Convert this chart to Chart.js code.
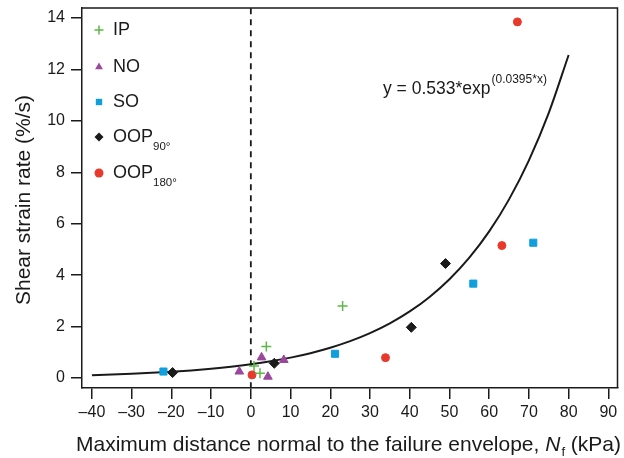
<!DOCTYPE html>
<html><head><meta charset="utf-8">
<script src="https://cdn.jsdelivr.net/npm/chart.js@4/dist/chart.umd.min.js"></script>
<style>html,body{margin:0;padding:0;background:#fff}#wrap{width:624px;height:458px;position:relative}</style>
</head><body><div id="wrap"><canvas id="c" width="624" height="458"></canvas></div>
<script>
// ---- data ----
const xTicks = [-40,-30,-20,-10,0,10,20,30,40,50,60,70,80,90];
const yTicks = [0,2,4,6,8,10,12,14];
const ipX = [23.1, 3.9, 0.8, 2.3];
const ipY = [2.8, 1.22, 0.47, 0.18];
const noX = [2.7, -2.9, 4.3, 8.3];
const noY = [0.8, 0.25, 0.05, 0.7];
const soX = [-22, 21.2, 56, 71.1];
const soY = [0.25, 0.94, 3.67, 5.26];
const oop90X = [-19.7, 5.9, 40.4, 49];
const oop90Y = [0.21, 0.57, 1.97, 4.45];
const oop180X = [0.3, 33.9, 63.2, 67.1];
const oop180Y = [0.12, 0.79, 5.15, 13.85];
const fitA = 0.533, fitB = 0.0395;
const fitXs = [-40,-35,-30,-25,-20,-15,-10,-5,0,5,10,15,20,25,30,35,40,45,50,55,60,65,70,75,80];

const FONT = '"Liberation Sans", Arial, Helvetica, sans-serif';
const pts = (xs, ys) => xs.map((x, i) => ({x, y: ys[i]}));
const fitPts = fitXs.map(x => ({x, y: fitA * Math.exp(fitB * x)}));

const series = [
  {label:'IP', xs:ipX, ys:ipY, style:'cross', color:'#5cb848', r:5, sub:''},
  {label:'NO', xs:noX, ys:noY, style:'triangle', color:'#9a489c', r:5, sub:''},
  {label:'SO', xs:soX, ys:soY, style:'rect', color:'#109fdc', r:5, sub:''},
  {label:'OOP', xs:oop90X, ys:oop90Y, style:'rectRot', color:'#1a1a1a', r:5, sub:'90°'},
  {label:'OOP', xs:oop180X, ys:oop180Y, style:'circle', color:'#e8392c', r:4, sub:'180°'}
];

const datasets = series.map(s => ({
  type:'scatter', label:s.label + s.sub, data: pts(s.xs, s.ys),
  pointStyle:s.style, pointRadius:s.r, pointHoverRadius:s.r,
  backgroundColor:s.color, borderColor:s.color,
  borderWidth: s.style === 'cross' ? 1.5 : 1
}));
datasets.push({type:'line', label:'fit', data: fitPts, borderColor:'#1a1a1a', borderWidth:2,
  pointRadius:0, tension:0.4, cubicInterpolationMode:'monotone', fill:false});
datasets.push({type:'line', label:'zero', data:[{x:0,y:-0.4},{x:0,y:14.43}], borderColor:'#1a1a1a',
  borderWidth:1.8, borderDash:[6,5], pointRadius:0, fill:false});

function drawMarker(ctx, style, x, y, r, color) {
  ctx.save();
  ctx.fillStyle = color; ctx.strokeStyle = color; ctx.lineWidth = 1.5;
  ctx.beginPath();
  if (style === 'cross') {
    ctx.moveTo(x - r, y); ctx.lineTo(x + r, y); ctx.moveTo(x, y - r); ctx.lineTo(x, y + r); ctx.stroke();
  } else if (style === 'triangle') {
    ctx.moveTo(x, y - r); ctx.lineTo(x + r * 0.87, y + r * 0.5); ctx.lineTo(x - r * 0.87, y + r * 0.5); ctx.closePath(); ctx.fill();
  } else if (style === 'rect') {
    const h = r * 0.707; ctx.rect(x - h, y - h, 2 * h, 2 * h); ctx.fill();
  } else if (style === 'rectRot') {
    ctx.moveTo(x, y - r); ctx.lineTo(x + r, y); ctx.lineTo(x, y + r); ctx.lineTo(x - r, y); ctx.closePath(); ctx.fill();
  } else {
    ctx.arc(x, y, r, 0, Math.PI * 2); ctx.fill();
  }
  ctx.restore();
}

const decor = {
  id:'decor',
  afterDraw(chart) {
    const ctx = chart.ctx, a = chart.chartArea;
    ctx.save();
    // box top/right
    ctx.strokeStyle = '#1a1a1a'; ctx.lineWidth = 1.5;
    ctx.beginPath(); ctx.moveTo(a.left, a.top); ctx.lineTo(a.right, a.top); ctx.lineTo(a.right, a.bottom); ctx.stroke();
    // legend
    const ys = [30, 67, 102, 137, 173];
    ctx.fillStyle = '#1a1a1a'; ctx.textBaseline = 'middle'; ctx.textAlign = 'left';
    series.forEach((s, i) => {
      drawMarker(ctx, s.style, 99, ys[i], 4.5, s.color);
      ctx.fillStyle = '#1a1a1a';
      ctx.font = '18px ' + FONT;
      ctx.fillText(s.label, 113, ys[i]);
      if (s.sub) {
        const w = ctx.measureText(s.label).width;
        ctx.font = '11.5px ' + FONT;
        ctx.fillText(s.sub, 113 + w, ys[i] + 10);
      }
    });
    // equation
    ctx.font = '17.5px ' + FONT;
    const eq = 'y = 0.533*exp';
    ctx.fillText(eq, 383, 89);
    const ew = ctx.measureText(eq).width;
    ctx.font = '12px ' + FONT;
    ctx.fillText('(0.0395*x)', 383 + ew + 1, 80);
    // x title
    const TF = 21;
    ctx.font = TF + 'px ' + FONT;
    const p1 = 'Maximum distance normal to the failure envelope, ';
    const w1 = ctx.measureText(p1).width;
    ctx.font = 'italic ' + TF + 'px ' + FONT;
    const wN = ctx.measureText('N').width;
    ctx.font = '13px ' + FONT;
    const wf = ctx.measureText('f').width;
    ctx.font = TF + 'px ' + FONT;
    const p3 = ' (kPa)';
    const w3 = ctx.measureText(p3).width;
    let x0 = 348 - (w1 + wN + wf + w3) / 2;
    const ty = 445;
    ctx.fillText(p1, x0, ty); x0 += w1;
    ctx.font = 'italic ' + TF + 'px ' + FONT; ctx.fillText('N', x0, ty); x0 += wN;
    ctx.font = '13px ' + FONT; ctx.fillText('f', x0 + 1, ty + 7); x0 += wf + 1;
    ctx.font = TF + 'px ' + FONT; ctx.fillText(p3, x0, ty);
    // y title
    ctx.translate(24, 200); ctx.rotate(-Math.PI / 2);
    ctx.textAlign = 'center';
    ctx.fillText('Shear strain rate (%/s)', 0, 0);
    ctx.restore();
  }
};

new Chart(document.getElementById('c'), {
  type:'scatter',
  data:{datasets},
  options:{
    responsive:false, animation:false,
    layout:{padding:{top:8, right:5, left:0, bottom:0}},
    plugins:{legend:{display:false}, tooltip:{enabled:false}},
    scales:{
      x:{type:'linear', min:-42.5, max:92.3,
        afterBuildTicks: s => { s.ticks = xTicks.map(v => ({value:v})); },
        afterFit: s => { s.height = 70; s.paddingLeft = 0; s.paddingRight = 0; },
        ticks:{font:{size:16, family:FONT, lineHeight:1}, color:'#1a1a1a', padding:6, maxRotation:0,
          callback: v => String(v).replace('-', '\u2013')},
        grid:{display:true, drawOnChartArea:false, drawTicks:true, tickLength:11, color:'#1a1a1a', lineWidth:1.5},
        border:{display:true, color:'#1a1a1a', width:1.5}},
      y:{type:'linear', min:-0.39, max:14.39,
        afterBuildTicks: s => { s.ticks = yTicks.map(v => ({value:v})); },
        afterFit: s => { s.width = 82; s.paddingTop = 0; s.paddingBottom = 0; },
        ticks:{font:{size:16, family:FONT, lineHeight:1}, color:'#1a1a1a', padding:6},
        grid:{display:true, drawOnChartArea:false, drawTicks:true, tickLength:11, color:'#1a1a1a', lineWidth:1.5},
        border:{display:true, color:'#1a1a1a', width:1.5}}
    }
  },
  plugins:[decor]
});
</script>
</body></html>
